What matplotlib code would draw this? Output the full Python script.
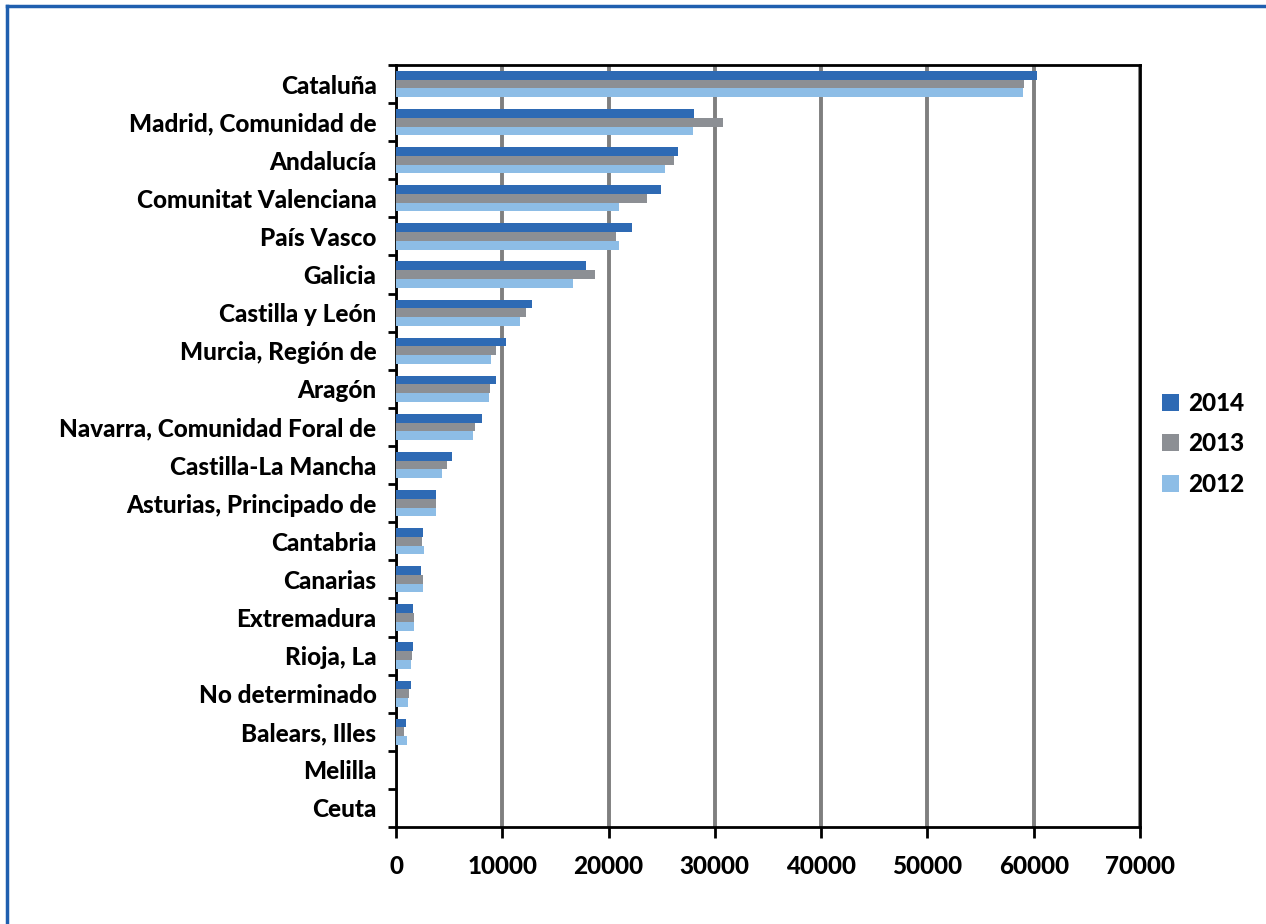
import numpy as np
import matplotlib.pyplot as plt
from matplotlib.lines import Line2D

# datos
regiones = ['Cataluña', 'Madrid, Comunidad de', 'Andalucía', 'Comunitat Valenciana',
            'País Vasco', 'Galicia', 'Castilla y León', 'Murcia, Región de', 'Aragón',
            'Navarra, Comunidad Foral de', 'Castilla-La Mancha', 'Asturias, Principado de',
            'Cantabria', 'Canarias', 'Extremadura', 'Rioja, La', 'No determinado',
            'Balears, Illes', 'Melilla', 'Ceuta']
v2014 = [60300, 28050, 26540, 24900, 22230, 17830, 12800, 10380, 9370, 8080,
         5310, 3800, 2520, 2330, 1600, 1600, 1415, 915, 0, 0]
v2013 = [59050, 30800, 26160, 23650, 20660, 18770, 12260, 9370, 8870, 7420,
         4840, 3800, 2450, 2580, 1670, 1480, 1195, 790, 0, 0]
v2012 = [58950, 27950, 25280, 20940, 20970, 16700, 11700, 8960, 8770, 7200,
         4340, 3800, 2670, 2550, 1670, 1450, 1100, 1000, 0, 0]

series = [('2014', v2014, '#2E6AB4'), ('2013', v2013, '#8C8F94'), ('2012', v2012, '#8DBDE6')]

plt.rcParams['font.family'] = ['Lato', 'DejaVu Sans']
PESO = 'black'
TAM = 17.5

fig = plt.figure(figsize=(12.66, 9.24), dpi=100)
ax = fig.add_axes([396 / 1266, 1 - 827 / 924, (1140 - 396) / 1266, (827 - 65) / 924])

y = np.arange(len(regiones))
h = 0.23
for i, (nombre, vals, color) in enumerate(series):
    ax.barh(y + (i - 1) * h, vals, height=h, color=color, label=nombre, zorder=3)

ax.set_xlim(0, 70000)
ax.set_ylim(len(regiones) - 0.5, -0.5)
ax.set_xticks(np.arange(0, 70001, 10000))
ax.grid(axis='x', color='#7F7F7F', linewidth=2.8, zorder=0)

ax.set_yticks(y)
ax.set_yticklabels(regiones, fontsize=TAM, fontweight=PESO)
ax.set_yticks(np.arange(-0.5, len(regiones)), minor=True)
ax.tick_params(axis='y', which='major', length=0, pad=14)
ax.tick_params(axis='y', which='minor', length=6, width=2, direction='out')
ax.tick_params(axis='x', length=8, width=2, direction='out', labelsize=TAM, pad=12)
for lab in ax.get_xticklabels():
    lab.set_fontweight(PESO)

for s in ax.spines.values():
    s.set_linewidth(2)
    s.set_color('black')

leg = ax.legend(loc='center left', bbox_to_anchor=(1.0, 0.503), frameon=False,
                fontsize=TAM, handlelength=0.7, handleheight=0.7, labelspacing=0.72,
                handletextpad=0.4)
for t in leg.get_texts():
    t.set_fontweight(PESO)

# marco azul exterior (solo arriba e izquierda visibles)
fig.add_artist(Line2D([7 / 1266, 7 / 1266], [0, 1 - 6 / 924], color='#1F5FAF', linewidth=2.5))
fig.add_artist(Line2D([7 / 1266, 1], [1 - 6 / 924, 1 - 6 / 924], color='#1F5FAF', linewidth=2.5))

fig.savefig('out.png', dpi=100)
